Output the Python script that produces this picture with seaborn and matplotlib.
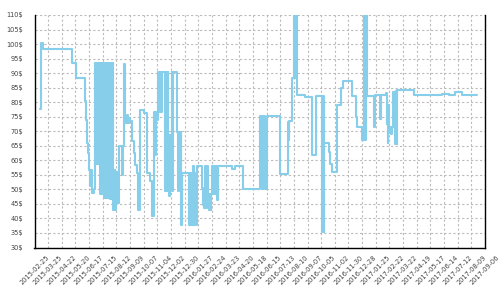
import matplotlib
matplotlib.use("Agg")
import matplotlib.pyplot as plt
import seaborn as sns
import pandas as pd

dates = [
    "2015-03-08", "2015-03-11", "2015-03-14", "2015-05-12", "2015-05-21", "2015-06-09",
    "2015-06-11", "2015-06-13", "2015-06-15", "2015-06-17", "2015-06-19", "2015-06-21",
    "2015-06-23", "2015-06-27",
    "2015-06-29", "2015-07-01", "2015-07-03", "2015-07-05", "2015-07-07", "2015-07-09",
    "2015-07-11", "2015-07-13", "2015-07-15", "2015-07-17", "2015-07-19", "2015-07-21",
    "2015-07-23", "2015-07-25", "2015-07-27", "2015-07-29", "2015-07-31", "2015-08-02",
    "2015-08-04", "2015-08-06", "2015-08-09", "2015-08-10", "2015-08-12", "2015-08-14",
    "2015-08-16", "2015-08-18", "2015-08-24", "2015-08-26", "2015-08-28", "2015-08-30",
    "2015-09-01", "2015-09-03", "2015-09-05", "2015-09-07", "2015-09-09", "2015-09-12",
    "2015-09-18", "2015-09-19", "2015-09-23", "2015-09-26", "2015-09-29", "2015-10-08",
    "2015-10-13", "2015-10-20", "2015-10-23", "2015-10-25", "2015-10-28", "2015-10-30",
    "2015-11-01", "2015-11-03", "2015-11-06", "2015-11-08", "2015-11-10", "2015-11-12",
    "2015-11-14", "2015-11-19", "2015-11-21", "2015-11-23", "2015-11-25", "2015-11-26",
    "2015-11-28", "2015-11-30", "2015-12-03", "2015-12-05", "2015-12-06", "2015-12-14",
    "2015-12-16", "2015-12-18", "2015-12-20", "2015-12-22", "2015-12-23", "2015-12-25",
    "2016-01-07", "2016-01-09", "2016-01-11", "2016-01-13", "2016-01-15", "2016-01-17",
    "2016-01-19", "2016-01-21", "2016-01-23", "2016-01-24", "2016-02-04", "2016-02-05",
    "2016-02-07", "2016-02-09", "2016-02-11", "2016-02-13", "2016-02-15", "2016-02-17",
    "2016-02-19", "2016-02-21", "2016-02-23", "2016-02-25", "2016-02-27", "2016-02-29",
    "2016-03-02", "2016-03-04", "2016-03-05", "2016-03-07", "2016-04-05", "2016-04-11",
    "2016-04-28", "2016-06-01", "2016-06-05", "2016-06-08", "2016-06-11", "2016-06-15",
    "2016-07-13", "2016-07-28", "2016-07-30", "2016-08-01", "2016-08-07", "2016-08-11",
    "2016-08-13", "2016-08-15", "2016-08-17", "2016-09-02", "2016-09-17", "2016-09-24",
    "2016-10-06", "2016-10-08", "2016-10-10", "2016-10-11", "2016-10-21", "2016-10-24",
    "2016-10-28", "2016-11-06", "2016-11-14", "2016-11-19", "2016-12-08", "2016-12-15",
    "2016-12-18", "2016-12-27", "2017-01-01", "2017-01-03", "2017-01-05", "2017-01-08",
    "2017-01-21", "2017-01-23", "2017-02-03", "2017-02-04", "2017-02-14", "2017-02-17",
    "2017-02-18", "2017-02-19", "2017-02-20", "2017-02-22", "2017-02-24", "2017-02-26",
    "2017-02-28", "2017-03-01", "2017-03-05", "2017-03-07", "2017-03-09", "2017-03-10",
    "2017-04-14", "2017-06-10", "2017-06-25", "2017-07-07", "2017-07-21", "2017-08-21",
]
prices = [
    77.8, 100.5, 98.2, 93.6, 88.2, 80.3,
    74.0, 66.0, 62.5, 56.8, 51.0, 56.8,
    48.7, 50.2,
    93.5, 58.7, 93.5, 58.7, 93.5, 48.4,
    93.5, 48.4, 93.5, 47.2, 93.5, 47.2,
    93.5, 47.2, 93.5, 46.6, 93.5, 46.6,
    93.5, 42.8, 56.5, 42.8, 45.3, 56.0,
    45.3, 65.0, 55.0, 65.0, 93.3, 75.0,
    73.0, 75.5, 73.0, 74.5, 73.4, 66.6,
    62.5, 58.5, 55.6, 42.8, 77.3, 76.2,
    55.6, 52.9, 48.1, 40.7, 76.7, 61.9,
    76.7, 73.9, 90.3, 76.7, 90.3, 76.7,
    90.3, 49.3, 90.3, 49.3, 90.3, 68.8,
    47.6, 68.8, 90.3, 49.3, 90.3, 69.9,
    49.3, 69.9, 55.6, 69.9, 37.8, 55.6,
    37.8, 55.6, 37.8, 55.6, 37.8, 58.2,
    37.8, 55.6, 37.8, 58.2, 50.4, 44.7,
    43.6, 58.0, 43.6, 58.0, 48.5, 43.0,
    48.5, 43.0, 48.5, 58.2, 48.5, 58.2,
    48.5, 58.2, 46.4, 58.2, 57.1, 58.2,
    50.2, 75.2, 50.2, 75.2, 50.2, 75.2,
    55.3, 73.2, 67.0, 73.4, 88.2, 115.0,
    88.2, 115.0, 82.6, 81.8, 61.7, 82.1,
    35.5, 82.1, 35.5, 66.0, 62.9, 58.9,
    56.0, 79.1, 84.9, 87.2, 82.2, 75.0,
    71.4, 67.1, 115.0, 67.1, 115.0, 82.2,
    71.4, 82.4, 74.2, 82.4, 83.2, 72.5,
    76.3, 65.9, 79.0, 69.5, 71.6, 69.2,
    71.6, 83.4, 65.7, 83.8, 65.7, 84.1,
    82.4, 82.8, 82.4, 83.6, 82.4, 82.4,
]
tick_dates = [
    "2015-02-25", "2015-03-25", "2015-04-22", "2015-05-20", "2015-06-17", "2015-07-15",
    "2015-08-12", "2015-09-09", "2015-10-07", "2015-11-04", "2015-12-02", "2015-12-30",
    "2016-01-27", "2016-02-24", "2016-03-23", "2016-04-20", "2016-05-18", "2016-06-15",
    "2016-07-13", "2016-08-10", "2016-09-07", "2016-10-05", "2016-11-02", "2016-11-30",
    "2016-12-28", "2017-01-25", "2017-02-22", "2017-03-22", "2017-04-19", "2017-05-17",
    "2017-06-14", "2017-07-12", "2017-08-09", "2017-09-06",
]
y_ticks = list(range(30, 115, 5))

sns.set_style("white")
plt.rcParams["font.family"] = ["DejaVu Sans"]

fig = plt.figure(figsize=(5, 3), dpi=100)
ax = fig.add_axes([0.069, 0.175, 0.901, 0.775])

df = pd.DataFrame({"date": pd.to_datetime(dates), "price": prices})
sns.lineplot(data=df, x="date", y="price", ax=ax, drawstyle="steps-post",
             color="#87CEEB", linewidth=1.5, estimator=None)

ax.set_xlim(pd.Timestamp(tick_dates[0]), pd.Timestamp(tick_dates[-1]))
ax.set_ylim(30, 110)
ax.set_xticks(pd.to_datetime(tick_dates))
ax.set_xticklabels(tick_dates, rotation=45, ha="center", fontsize=4.8, color="#444444")
ax.set_yticks(y_ticks)
ax.set_yticklabels([f"{v}$" for v in y_ticks], fontsize=4.8, color="#444444")
ax.set_xlabel("")
ax.set_ylabel("")

ax.grid(True, color="#bbbbbb", linestyle=(0, (2, 2)), linewidth=0.8)
ax.set_axisbelow(True)
ax.tick_params(direction="out", length=3.6, width=0.8, color="black")
ax.tick_params(axis="y", pad=4.5)
ax.tick_params(axis="x", pad=1.5)
for side in ["left", "bottom", "right"]:
    ax.spines[side].set_visible(True)
    ax.spines[side].set_color("black")
    ax.spines[side].set_linewidth(1.0)
ax.spines["top"].set_visible(False)

fig.savefig("out.png", dpi=100)
